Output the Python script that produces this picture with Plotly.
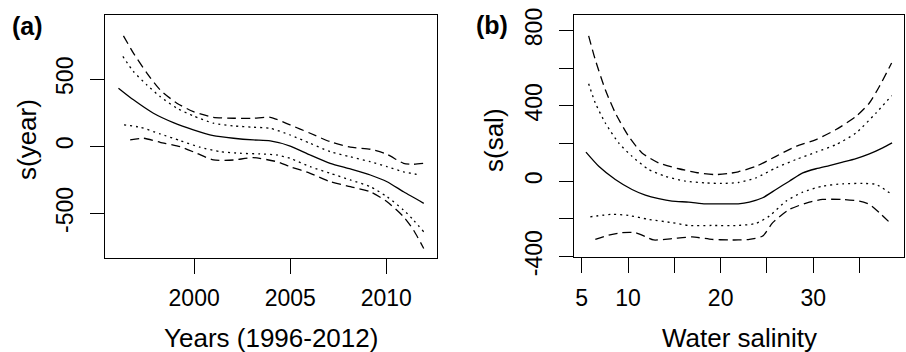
import plotly.graph_objects as go

# ---------------- Panel (a): s(year) ----------------
year_fit = [1996.06, 1996.84, 1997.88, 1998.92, 1999.96, 2001.0, 2002.05, 2003.09, 2003.96,
            2005.0, 2006.04, 2007.08, 2008.13, 2009.17, 2010.04, 2010.9, 2011.95]
fit_a = [433, 346, 246, 176, 122, 79, 60, 47, 40, 2, -65, -127, -169, -214, -264, -339, -425]

year_up_dash = [1996.32, 1996.84, 1997.54, 1998.23, 1999.1, 1999.96, 2001.0, 2002.05, 2003.09,
                2003.96, 2005.0, 2006.04, 2007.08, 2008.13, 2009.17, 2010.04, 2010.9, 2011.42, 2011.95]
up_dash_a = [823, 694, 545, 420, 321, 258, 216, 209, 209, 216, 159, 97, 34, -7, -22, -60, -127, -134, -127]

year_up_dot = [1996.29, 1996.84, 1997.54, 1998.23, 1999.1, 1999.96, 2001.0, 2002.05, 2003.09,
               2003.96, 2005.0, 2006.04, 2007.08, 2008.13, 2009.17, 2010.04, 2010.9, 2011.77]
up_dot_a = [669, 557, 457, 370, 284, 226, 172, 152, 142, 134, 84, 22, -40, -78, -115, -152, -190, -214]

year_lo_dot = [1996.35, 1997.19, 1998.23, 1999.27, 2000.31, 2001.35, 2002.4, 2003.44, 2004.31,
               2005.0, 2006.04, 2007.08, 2008.13, 2009.17, 2010.04, 2010.9, 2011.42, 2011.95]
lo_dot_a = [159, 142, 92, 42, -7, -40, -52, -57, -65, -90, -152, -201, -251, -301, -376, -475, -550, -637]

year_lo_dash = [1996.67, 1997.36, 1998.23, 1999.27, 2000.14, 2001.0, 2002.05, 2003.09, 2004.31,
                2005.0, 2006.04, 2007.08, 2008.13, 2009.17, 2010.04, 2010.9, 2011.42, 2011.95]
lo_dash_a = [47, 60, 30, -3, -52, -102, -102, -85, -115, -152, -201, -264, -301, -339, -413, -525, -625, -761]

# ---------------- Panel (b): s(sal) ----------------
sal_fit = [5.46, 6.84, 8.63, 10.43, 11.87, 13.31, 14.75, 16.55, 18.34, 20.14, 21.9, 23.1, 24.54,
           25.97, 27.41, 28.86, 30.29, 31.73, 33.17, 34.61, 36.05, 37.49, 38.5]
fit_b = [154, 79, 9, -44, -74, -93, -106, -111, -120, -120, -120, -111, -88,
         -44, 0, 44, 66, 83, 101, 120, 145, 177, 203]

sal_up_dash = [5.75, 6.47, 7.55, 8.63, 10.07, 11.51, 13.31, 15.47, 17.63, 19.42, 20.87, 21.9,
               23.82, 25.97, 28.13, 30.29, 32.45, 34.61, 36.05, 37.13, 38.45]
up_dash_b = [771, 644, 485, 362, 238, 150, 97, 66, 44, 35, 41, 50,
             79, 132, 185, 221, 274, 344, 415, 503, 627]

sal_up_dot = [5.75, 6.47, 7.55, 8.99, 10.43, 12.23, 14.02, 16.18, 18.34, 20.14, 21.9,
              23.82, 25.97, 28.13, 30.29, 32.45, 34.61, 36.77, 38.45]
up_dot_b = [517, 415, 309, 203, 132, 62, 26, 0, -9, -12, -7,
            18, 71, 115, 154, 194, 256, 362, 454]

sal_lo_dot = [5.93, 8.27, 10.07, 12.23, 14.75, 16.55, 19.07, 21.9, 23.82, 25.26, 27.06,
              28.86, 31.01, 33.17, 35.33, 36.77, 38.45]
lo_dot_b = [-189, -176, -182, -203, -220, -235, -235, -235, -224, -185, -106,
            -58, -26, -14, -12, -17, -70]

sal_lo_dash = [6.47, 7.91, 9.35, 10.79, 11.87, 12.77, 14.75, 16.91, 19.07, 20.87, 21.9, 23.1,
               24.54, 25.62, 27.41, 29.57, 31.01, 33.17, 34.97, 36.05, 37.13, 38.45]
lo_dash_b = [-309, -286, -273, -273, -294, -312, -305, -296, -309, -312, -312, -309,
             -291, -220, -150, -111, -97, -97, -106, -123, -167, -229]

# ticks
a_xticks = [2000, 2005, 2010]
a_yticks = [-500, 0, 500]
b_xticks = [5, 10, 15, 20, 25, 30, 35]
b_xtext = ["5", "10", "", "20", "", "30", ""]
b_yticks = [-400, -200, 0, 200, 400, 600, 800]
b_ytext = ["-400", "", "0", "", "400", "", "800"]

W, H = 906, 352
FONT = "Liberation Sans, Arial, Helvetica, sans-serif"
DASH = "9px,5px"
DOT = "2px,4px"

fig = go.Figure()


def add(x, y, dash, xa, ya):
    fig.add_trace(go.Scatter(x=x, y=y, mode="lines", xaxis=xa, yaxis=ya,
                             line=dict(color="black", width=1.3, dash=dash, shape="spline", smoothing=0.6),
                             showlegend=False, hoverinfo="skip"))


add(year_fit, fit_a, "solid", "x", "y")
add(year_up_dash, up_dash_a, DASH, "x", "y")
add(year_lo_dash, lo_dash_a, DASH, "x", "y")
add(year_up_dot, up_dot_a, DOT, "x", "y")
add(year_lo_dot, lo_dot_a, DOT, "x", "y")

add(sal_fit, fit_b, "solid", "x2", "y2")
add(sal_up_dash, up_dash_b, DASH, "x2", "y2")
add(sal_lo_dash, lo_dash_b, DASH, "x2", "y2")
add(sal_up_dot, up_dot_b, DOT, "x2", "y2")
add(sal_lo_dot, lo_dot_b, DOT, "x2", "y2")

axis_common = dict(showline=True, mirror=True, linecolor="black", linewidth=1.3,
                   showgrid=False, zeroline=False, ticks="outside", tickcolor="black",
                   tickwidth=1.3, automargin=False,
                   tickfont=dict(family=FONT, size=23, color="black"))


def px_x(p):
    return p / W


def px_y(p):
    return 1 - p / H


fig.update_layout(
    width=W, height=H, margin=dict(l=0, r=0, t=0, b=0),
    paper_bgcolor="white", plot_bgcolor="white",
    xaxis=dict(domain=[px_x(105), px_x(437)], range=[1995.36, 2012.64], anchor="y",
               tickvals=a_xticks, ticktext=[str(v) for v in a_xticks], ticklen=15,
               ticklabelstandoff=5, **axis_common),
    yaxis=dict(domain=[px_y(257.7), px_y(15)], range=[-830, 978], anchor="x",
               tickvals=a_yticks, ticktext=[str(v) for v in a_yticks], ticklen=14,
               tickangle=-90, ticklabelstandoff=8, **axis_common),
    xaxis2=dict(domain=[px_x(574), px_x(904.3)], range=[4.17, 39.82], anchor="y2",
                tickvals=b_xticks, ticktext=b_xtext, ticklen=15,
                ticklabelstandoff=5, **axis_common),
    yaxis2=dict(domain=[px_y(257.3), px_y(15)], range=[-404, 882], anchor="x2",
                tickvals=b_yticks, ticktext=b_ytext, ticklen=14,
                tickangle=-90, ticklabelstandoff=8, **axis_common),
)

ann = [
    dict(text="<b>(a)</b>", x=px_x(27.7), y=px_y(25.8), size=25),
    dict(text="<b>(b)</b>", x=px_x(491.7), y=px_y(25), size=25),
    dict(text="Years (1996-2012)", x=px_x(271), y=px_y(338), size=26),
    dict(text="Water salinity", x=px_x(739), y=px_y(338), size=26),
    dict(text="s(year)", x=px_x(27), y=px_y(140), size=26, angle=-90),
    dict(text="s(sal)", x=px_x(494), y=px_y(140), size=26, angle=-90),
]
for a in ann:
    fig.add_annotation(text=a["text"], x=a["x"], y=a["y"], xref="paper", yref="paper",
                       xanchor="center", yanchor="middle", showarrow=False,
                       textangle=a.get("angle", 0),
                       font=dict(family=FONT, size=a["size"], color="black"))

fig.write_html("out.html", config={"displayModeBar": False},
               post_script="document.body.style.margin='0';document.body.style.overflow='hidden';")
